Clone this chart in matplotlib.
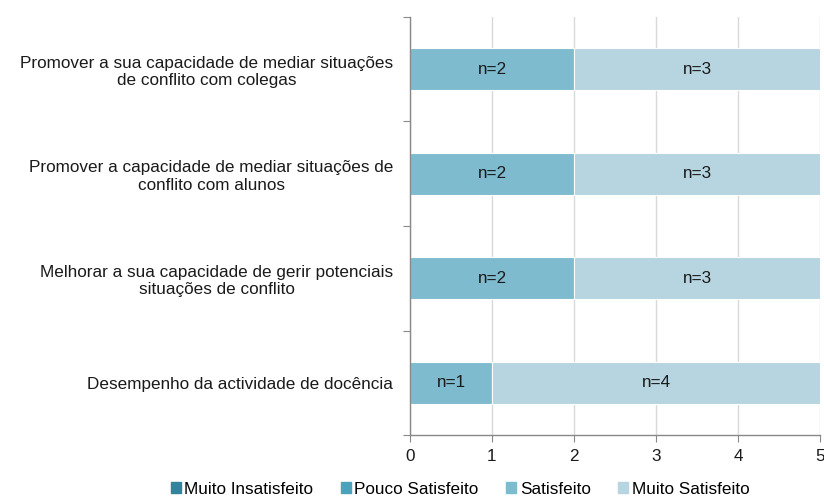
import matplotlib
matplotlib.use("Agg")
import matplotlib.pyplot as plt
import numpy as np
from matplotlib.ticker import FixedLocator

plt.rcParams['font.family'] = ['Liberation Sans', 'DejaVu Sans']

categories = [
    "Desempenho da actividade de docência",
    "Melhorar a sua capacidade de gerir potenciais\nsituações de conflito",
    "Promover a capacidade de mediar situações de\nconflito com alunos",
    "Promover a sua capacidade de mediar situações\nde conflito com colegas",
]
series_names = ["Muito Insatisfeito", "Pouco Satisfeito", "Satisfeito", "Muito Satisfeito"]
muito_insatisfeito = [0, 0, 0, 0]
pouco_satisfeito = [0, 0, 0, 0]
satisfeito = [1, 2, 2, 2]
muito_satisfeito = [4, 3, 3, 3]
colors = ["#31849b", "#4aa3bb", "#7fbbcf", "#b7d5e0"]

FS = 12.3

fig = plt.figure(figsize=(8.24, 4.98), dpi=100)
ax = fig.add_axes([410/824, 1-435/498, 410/824, 418/498])

y = np.arange(len(categories))
left = np.zeros(len(categories))
for name, vals, c in zip(series_names, [muito_insatisfeito, pouco_satisfeito, satisfeito, muito_satisfeito], colors):
    vals = np.array(vals, dtype=float)
    ax.barh(y, vals, left=left, height=0.4, color=c, edgecolor="white", linewidth=0.8, label=name, zorder=2)
    for yi, v, l in zip(y, vals, left):
        if v > 0:
            ax.text(l + v/2, yi, f"n={int(v)}", ha="center", va="center", fontsize=FS, color="#1a1a1a", zorder=4)
    left += vals

ax.set_xlim(0, 5)
ax.set_ylim(-0.5, 3.5)
ax.set_xticks([0, 1, 2, 3, 4, 5])
ax.tick_params(axis="x", labelsize=FS, length=5, color="#888888", pad=5, labelcolor="#1a1a1a")
ax.xaxis.grid(True, color="#d9d9d9", linewidth=1, zorder=0)
ax.set_axisbelow(True)

ax.yaxis.set_major_locator(FixedLocator([-0.5, 0.5, 1.5, 2.5, 3.5]))
ax.yaxis.set_minor_locator(FixedLocator(list(y)))
ax.yaxis.set_major_formatter(plt.NullFormatter())
ax.set_yticklabels(categories, minor=True)
ax.tick_params(axis="y", which="major", length=5, color="#888888", direction="out")
ax.tick_params(axis="y", which="minor", length=0, labelsize=FS, pad=12, labelcolor="#1a1a1a")
for lbl in ax.get_yticklabels(minor=True):
    lbl.set_multialignment("center")

for s in ["top", "right"]:
    ax.spines[s].set_visible(False)
for s in ["left", "bottom"]:
    ax.spines[s].set_color("#888888")
    ax.spines[s].set_linewidth(1)
    ax.spines[s].set_zorder(5)

handles = [plt.Rectangle((0, 0), 1, 1, color=c) for c in colors]
fig.legend(handles, series_names, loc="center", bbox_to_anchor=(460/824, 1-489/498), ncol=4,
           frameon=False, fontsize=FS, handlelength=0.6, handleheight=0.6, handletextpad=0.2,
           columnspacing=1.6, borderpad=0)

fig.savefig("out.png", dpi=100)
